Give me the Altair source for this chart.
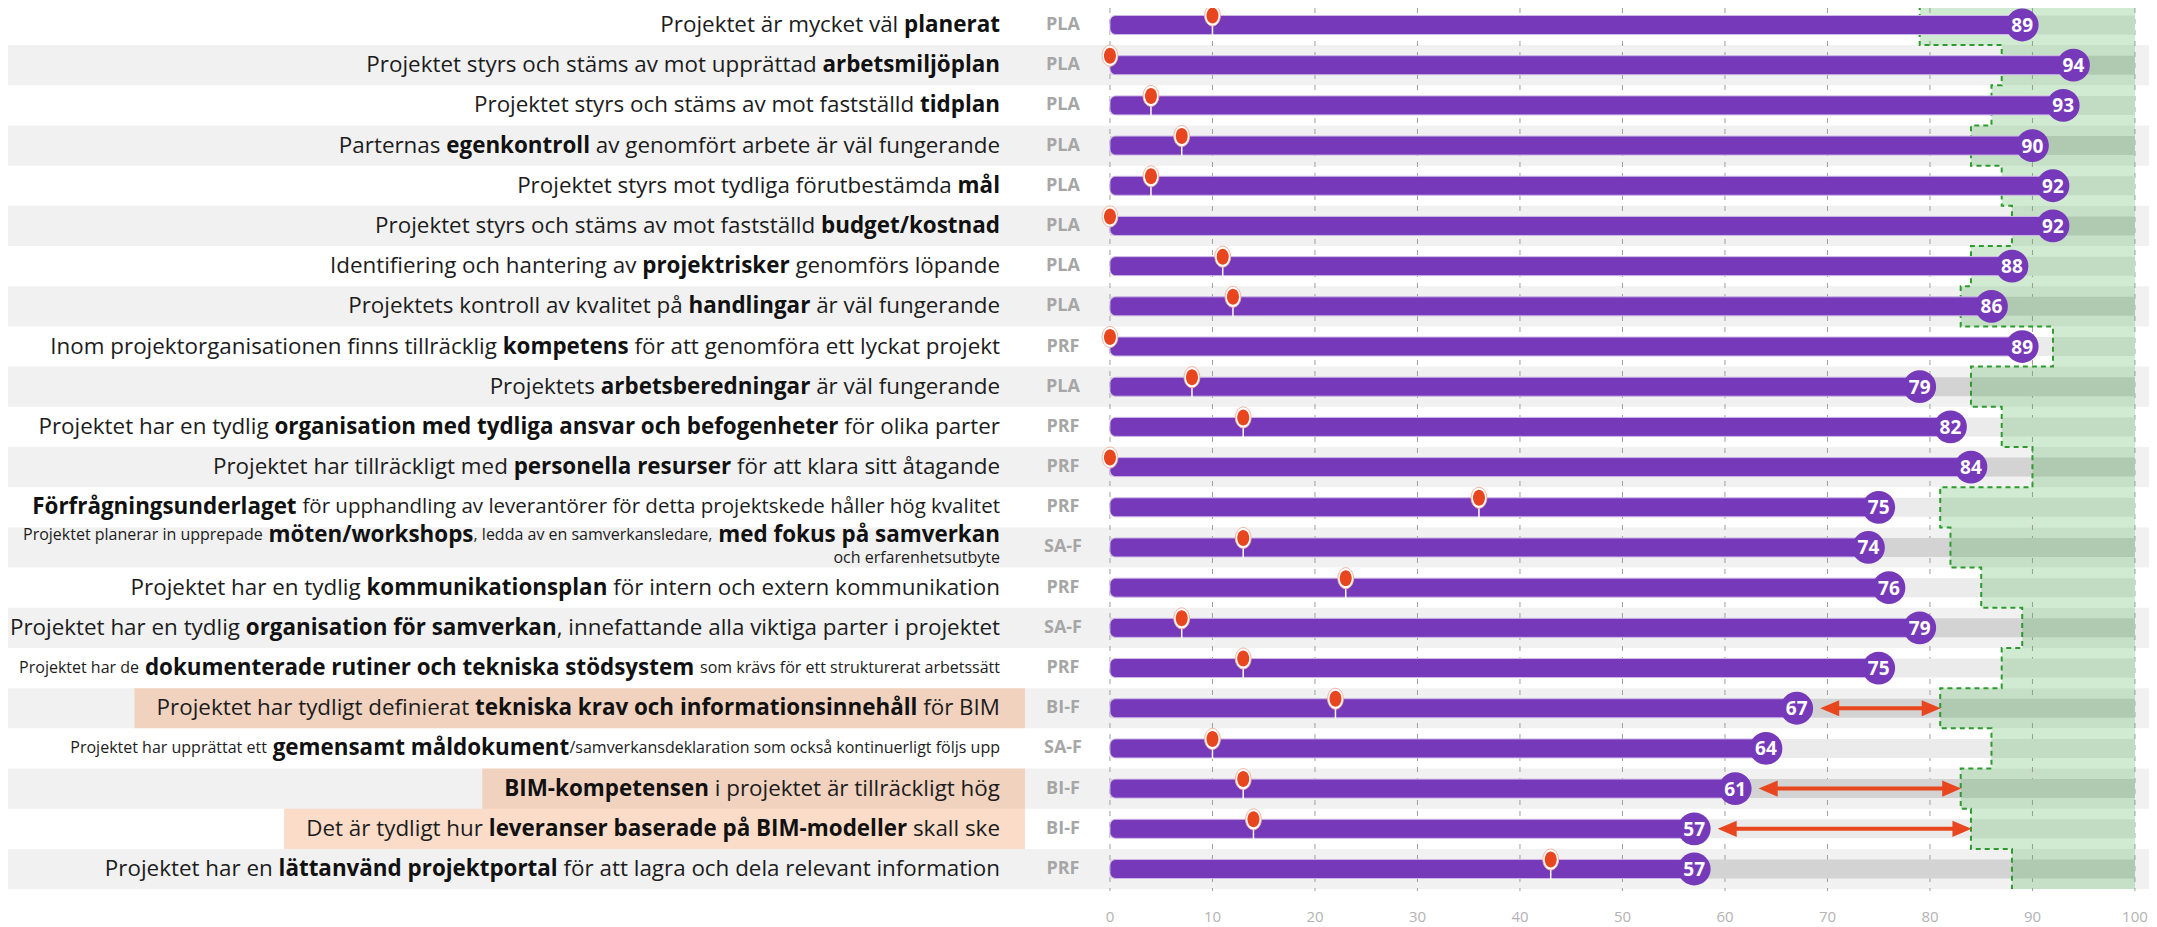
import re
import subprocess
import altair as alt
import pandas as pd
import numpy as np

# ---------------- data ----------------
labels = [
    "Projektet är mycket väl **planerat**",
    "Projektet styrs och stäms av mot upprättad **arbetsmiljöplan**",
    "Projektet styrs och stäms av mot fastställd **tidplan**",
    "Parternas **egenkontroll** av genomfört arbete är väl fungerande",
    "Projektet styrs mot tydliga förutbestämda **mål**",
    "Projektet styrs och stäms av mot fastställd **budget/kostnad**",
    "Identifiering och hantering av **projektrisker** genomförs löpande",
    "Projektets kontroll av kvalitet på **handlingar** är väl fungerande",
    "Inom projektorganisationen finns tillräcklig **kompetens** för att genomföra ett lyckat projekt",
    "Projektets **arbetsberedningar** är väl fungerande",
    "Projektet har en tydlig **organisation med tydliga ansvar och befogenheter** för olika parter",
    "Projektet har tillräckligt med **personella resurser** för att klara sitt åtagande",
    "**Förfrågningsunderlaget** [för upphandling av leverantörer för detta projektskede håller hög kvalitet]",
    "{Projektet planerar in upprepade} **möten/workshops**{, ledda av en samverkansledare,} **med fokus på samverkan**",
    "Projektet har en tydlig **kommunikationsplan** för intern och extern kommunikation",
    "Projektet har en tydlig **organisation för samverkan**, innefattande alla viktiga parter i projektet",
    "{Projektet har de} **dokumenterade rutiner och tekniska stödsystem** {som krävs för ett strukturerat arbetssätt}",
    "Projektet har tydligt definierat **tekniska krav och informationsinnehåll** för BIM",
    "{Projektet har upprättat ett} **gemensamt måldokument**{/samverkansdeklaration som också kontinuerligt följs upp}",
    "**BIM-kompetensen** i projektet är tillräckligt hög",
    "Det är tydligt hur **leveranser baserade på BIM-modeller** skall ske",
    "Projektet har en **lättanvänd projektportal** för att lagra och dela relevant information",
]
second_lines = {13: "{och erfarenhetsutbyte}"}
codes = ["PLA", "PLA", "PLA", "PLA", "PLA", "PLA", "PLA", "PLA", "PRF", "PLA", "PRF",
         "PRF", "PRF", "SA-F", "PRF", "SA-F", "PRF", "BI-F", "SA-F", "BI-F", "BI-F", "PRF"]
values = [89, 94, 93, 90, 92, 92, 88, 86, 89, 79, 82, 84, 75, 74, 76, 79, 75, 67, 64, 61, 57, 57]
pins = [10, 0, 4, 7, 4, 0, 11, 12, 0, 8, 13, 0, 36, 13, 23, 7, 13, 22, 10, 13, 14, 43]
targets = [79, 87, 86, 84, 87, 88, 84, 83, 92, 84, 87, 90, 81, 82, 85, 89, 87, 81, 86, 83, 84, 88]
highlight_rows = [17, 19, 20]
arrow_rows = [17, 19, 20]
ticks = list(range(0, 101, 10))

# ---------------- layout ----------------
W, H = 2141, 887
X_MIN, X_MAX = -107.51, 101.37
Y_MIN, Y_MAX = -0.423, 21.647
PX = W / (X_MAX - X_MIN)          # px per value unit
PY = H / (Y_MAX - Y_MIN)          # px per row
BAR_HALF = 9.5 / PY
LABEL_RIGHT_PX = -110
CODE_PX = -47
HL_PAD_L, HL_RIGHT_PX = 22, -85
ARROW_GAP = 24
F_MAIN, F_SMALL, F_MID = 22.4, 16, 20.5
FONT = "Open Sans"

PURPLE = "#7539b9"
RED = "#e8461e"


def _fallback_measure():
    def w(c):
        if c == " ":
            return 0.26
        if c in "ijl.,:;'|!":
            return 0.25
        if c in "ftr-/()":
            return 0.36
        if c in "mw":
            return 0.84
        if c in "MW":
            return 0.9
        if c == "I":
            return 0.3
        if c.isupper():
            return 0.68
        if c.isdigit():
            return 0.57
        return 0.55

    def m(text, b, size):
        return sum(w(c) for c in text) * size * (1.07 if b else 1.0)
    return m


def _make_measure():
    try:
        from PIL import ImageFont
        files = {}
        key = FONT.replace(" ", "").lower()
        for b, q in ((0, FONT + ":style=Regular"), (1, FONT + ":style=Bold")):
            f = subprocess.run(["fc-match", "-f", "%{file}", q], capture_output=True,
                               text=True, timeout=10).stdout.strip()
            if key not in f.replace(" ", "").replace("-", "").replace("_", "").lower():
                raise RuntimeError("font not found")
            files[b] = f

        def load(b, size, weight):
            fo = ImageFont.truetype(files[b], size)
            try:
                axes = fo.get_variation_axes()
                vals = []
                for a in axes:
                    nm = a.get("name", b"")
                    if isinstance(nm, bytes):
                        nm = nm.decode("latin-1", "ignore")
                    if "eight" in str(nm).lower():
                        vals.append(weight)
                    else:
                        vals.append(a.get("default", a.get("minimum")))
                if vals:
                    fo.set_variation_by_axes(vals)
            except Exception:
                pass
            return fo

        cache = {}

        def raw(text, b, size):
            k = (b, size)
            if k not in cache:
                cache[k] = load(b, size, 700 if b else 400)
            return cache[k].getlength(text)

        probe = "Projektet har en tydlig organisation"
        ratio = raw(probe, 1, 40) / raw(probe, 0, 40)
        fix = 1.0 if ratio > 1.04 else 1.075 / ratio

        def m(text, b, size):
            return raw(text, b, size) * (fix if b else 1.0)
        return m
    except Exception:
        return _fallback_measure()


measure = _make_measure()
TOKEN = re.compile(r"\*\*(.+?)\*\*|\{(.+?)\}|\[(.+?)\]|([^*{}\[\]]+)")


def parse(s):
    segs = []
    for mt in TOKEN.finditer(s):
        if mt.group(1) is not None:
            segs.append((mt.group(1), 1, F_MAIN))
        elif mt.group(2) is not None:
            segs.append((mt.group(2), 0, F_SMALL))
        elif mt.group(3) is not None:
            segs.append((mt.group(3), 0, F_MID))
        else:
            segs.append((mt.group(4), 0, F_MAIN))
    return segs


def layout(segs, right_px):
    out = []
    cur = right_px
    for text, b, fs in reversed(segs):
        t = text.rstrip()
        if len(t) < len(text):
            cur -= measure(" ", b, fs)
        t2 = t.lstrip()
        if t2:
            out.append((t2, b, fs, cur))
            cur -= measure(t2, b, fs)
        if len(t2) < len(t):
            cur -= measure(" ", b, fs)
    return out, cur


n = len(values)
idx = np.arange(n)
rows = pd.DataFrame({"i": idx, "value": values, "pin": pins, "target": targets, "code": codes})
rows["top"] = rows.i - 0.5
rows["bot"] = rows.i + 0.5
rows["btop"] = rows.i - BAR_HALF
rows["bbot"] = rows.i + BAR_HALF
rows["pbot"] = rows.i + BAR_HALF + 1.0 / PY
rows["stripe"] = rows.i % 2 == 1
rows["track"] = np.where(rows.stripe, "#d3d3d3", "#ebebeb")
rows["zero"] = 0
rows["full"] = 100
rows["codex"] = CODE_PX / PX

label_recs = []
left_edge = {}
for i, lab in enumerate(labels):
    y = i - 0.3 if i in second_lines else i
    segs, left = layout(parse(lab), LABEL_RIGHT_PX)
    left_edge[i] = left
    for t, b, fs, xr in segs:
        label_recs.append({"text": t, "bold": b, "fs": fs, "x": xr / PX, "y": y})
    if i in second_lines:
        segs2, _ = layout(parse(second_lines[i]), LABEL_RIGHT_PX)
        for t, b, fs, xr in segs2:
            label_recs.append({"text": t, "bold": b, "fs": fs, "x": xr / PX, "y": i + 0.25})
lab_df = pd.DataFrame(label_recs)

hl_df = pd.DataFrame([{"xl": (left_edge[i] - HL_PAD_L) / PX, "xr": HL_RIGHT_PX / PX,
                       "top": i - 0.5, "bot": i + 0.5} for i in highlight_rows])

step_recs = []
for i, t in enumerate(targets):
    step_recs.append({"sx": t, "sy": i - 0.5, "k": 2 * i})
    step_recs.append({"sx": t, "sy": i + 0.5, "k": 2 * i + 1})
step_df = pd.DataFrame(step_recs)

tick_df = pd.DataFrame({"t": ticks})
arr_df = rows[rows.i.isin(arrow_rows)]
pin_df = rows[rows.pin > 0]

xs = alt.Scale(domain=[X_MIN, X_MAX], nice=False, zero=False)
ys = alt.Scale(domain=[Y_MIN, Y_MAX], nice=False, zero=False, reverse=True)


def X(f):
    return alt.X(f, type="quantitative", scale=xs, axis=None)


def Y(f):
    return alt.Y(f, type="quantitative", scale=ys, axis=None)


ELLIPSE = "M-0.75,0A0.75,1,0,1,0,0.75,0A0.75,1,0,1,0,-0.75,0Z"
HEAD_L = "M-1,0L1,-0.85L1,0.85Z"
HEAD_R = "M1,0L-1,-0.85L-1,0.85Z"

layers = [
    alt.Chart(rows[rows.stripe]).mark_rect(color="#f1f1f1").encode(
        x=alt.value(0), x2=alt.value(W), y=Y("top"), y2="bot"),
    alt.Chart(hl_df).mark_rect(color="#f08a4b", opacity=0.3).encode(
        x=X("xl"), x2="xr", y=Y("top"), y2="bot"),
    alt.Chart(tick_df).mark_rule(color="#9e9e9e", strokeDash=[5, 6], strokeWidth=1).encode(
        x=X("t"), y=alt.value(0), y2=alt.value(H - 4)),
    alt.Chart(rows).mark_rect().encode(
        x=X("zero"), x2="full", y=Y("btop"), y2="bbot", color=alt.Color("track:N", scale=None)),
    alt.Chart(rows).mark_rect(color="#4caf50", opacity=0.26).encode(
        x=X("target"), x2="full", y=Y("top"), y2="bot"),
    alt.Chart(step_df).mark_line(color="#2e9b2e", strokeDash=[5, 4], strokeWidth=2).encode(
        x=X("sx"), y=Y("sy"), order="k:Q"),
    alt.Chart(rows).mark_rect(color=PURPLE, stroke="#cdb8e8", strokeWidth=1, cornerRadius=6).encode(
        x=X("zero"), x2="value", y=Y("btop"), y2="bbot"),
    alt.Chart(arr_df).mark_rule(color=RED, strokeWidth=4, xOffset=ARROW_GAP + 9, x2Offset=-9).encode(
        x=X("value"), x2="target", y=Y("i")),
    alt.Chart(arr_df).mark_point(shape=HEAD_L, size=361, filled=True, color=RED, opacity=1,
                                 xOffset=ARROW_GAP + 9).encode(x=X("value"), y=Y("i")),
    alt.Chart(arr_df).mark_point(shape=HEAD_R, size=361, filled=True, color=RED, opacity=1,
                                 xOffset=-9).encode(x=X("target"), y=Y("i")),
    alt.Chart(pin_df).mark_rule(color="white", strokeWidth=1.5).encode(
        x=X("pin"), y=Y("btop"), y2="pbot"),
    alt.Chart(rows).mark_point(shape=ELLIPSE, size=441, filled=True, fill="white",
                               stroke="#f2b3a1", strokeWidth=1, opacity=1).encode(
        x=X("pin"), y=Y("btop")),
    alt.Chart(rows).mark_point(shape=ELLIPSE, size=256, filled=True, color=RED, opacity=1).encode(
        x=X("pin"), y=Y("btop")),
    alt.Chart(rows).mark_circle(size=1075, color=PURPLE, opacity=1).encode(
        x=X("value"), y=Y("i")),
    alt.Chart(rows).mark_text(font=FONT, fontWeight="bold", fontSize=19, color="white",
                              align="center", baseline="middle", dy=1).encode(
        x=X("value"), y=Y("i"), text="value:Q"),
    alt.Chart(rows).mark_text(font=FONT, fontWeight="bold", fontSize=18, color="#a6a6a6",
                              align="center", baseline="middle").encode(
        x=X("codex"), y=Y("i"), text="code:N"),
    alt.Chart(lab_df[lab_df.bold == 0]).mark_text(font=FONT, fontWeight="normal", color="#1c1c1c",
                                                 align="right", baseline="middle").encode(
        x=X("x"), y=Y("y"), text="text:N", size=alt.Size("fs:Q", scale=None)),
    alt.Chart(lab_df[lab_df.bold == 1]).mark_text(font=FONT, fontWeight="bold", color="#111111",
                                                 align="right", baseline="middle").encode(
        x=X("x"), y=Y("y"), text="text:N", size=alt.Size("fs:Q", scale=None)),
    alt.Chart(tick_df).mark_text(font=FONT, fontSize=15, color="#b3b3b3",
                                 align="center", baseline="middle").encode(
        x=X("t"), y=alt.value(H + 22), text="t:Q"),
]

chart = alt.layer(*layers).properties(
    width=W, height=H,
    padding={"left": 0, "top": 0, "right": 0, "bottom": 30},
    autosize=alt.AutoSizeParams(type="none"),
    background="white",
).configure_view(stroke=None)

chart.save("out.html", embed_options={"renderer": "svg", "actions": False})
